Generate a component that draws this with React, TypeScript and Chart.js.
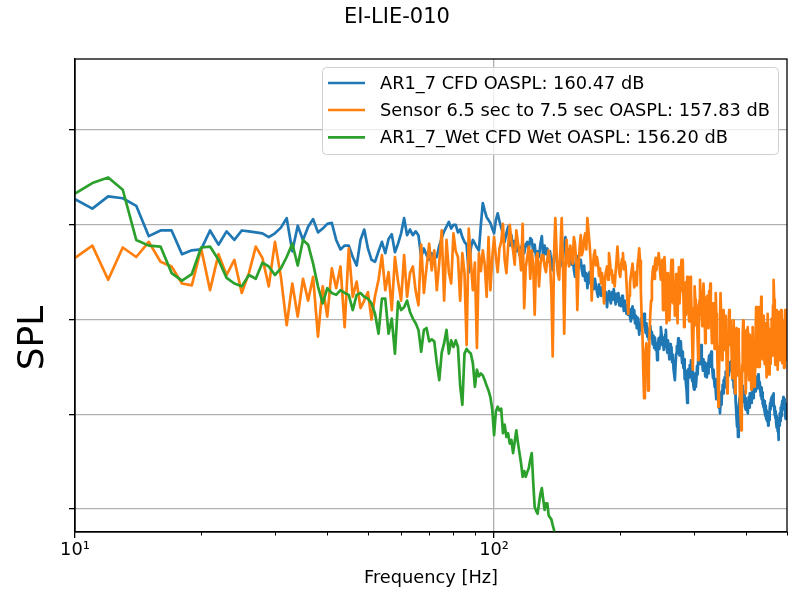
import React, { useEffect, useRef } from 'react';
import { Chart, registerables } from 'chart.js';

Chart.register(...registerables);

// ---------- data ----------
const titleText = 'EI-LIE-010';
const xAxisTitle = 'Frequency [Hz]';
const yAxisTitle = 'SPL';
const seriesLabels = [
  'AR1_7 CFD OASPL: 160.47 dB',
  'Sensor 6.5 sec to 7.5 sec OASPL: 157.83 dB',
  'AR1_7_Wet CFD Wet OASPL: 156.20 dB',
];
const seriesColors = ['#1f77b4', '#ff7f0e', '#2ca02c'];

// spectra sampled every 1 Hz starting at 10 Hz
const freqStart = 10;
const freqStep = 1;

const xMajorTicks = [10, 100];
const xMinorTicks = [20, 30, 40, 50, 60, 70, 80, 90, 200, 300, 400, 500];
const xTickLabels: Record<number, string> = { 10: '10¹', 100: '10²' };
const yTicks = [120, 130, 140, 150, 160];

const blueValues = [
  152.7, 151.7, 153.0, 152.8, 152.0, 148.8, 149.4, 149.4, 146.9, 147.3,
  147.4, 149.4, 147.9, 149.3, 148.4, 149.4, 149.3, 149.2, 149.1, 148.7,
  149.1, 149.7, 150.7, 147.2, 149.9, 148.4, 149.8, 150.6, 149.2, 149.6,
  150.1, 150.2, 148.4, 147.4, 147.8, 147.8, 146.6, 145.7, 148.4, 149.5,
  147.5, 146.3, 146.1, 147.2, 148.2, 147.0, 148.5, 149.0, 147.1, 148.0,
  149.1, 150.7, 148.9, 149.5, 148.9, 149.3, 148.9, 146.6, 147.5, 146.8,
  146.3, 147.0, 146.5, 146.6, 147.8, 148.6, 149.3, 149.8, 150.3, 149.6,
  150.0, 150.0, 149.2, 149.5, 148.7, 148.2, 147.9, 145.0, 147.5, 148.4,
  148.0, 147.6, 147.3, 150.0, 152.3, 151.5, 150.8, 150.5, 150.2, 149.6,
  149.1, 150.5, 151.2, 150.4, 149.7, 149.0, 148.2, 149.1, 149.8, 147.8,
  148.9, 147.6, 148.3, 147.2, 147.8, 146.8, 147.5, 148.1, 147.0, 147.9,
  148.2, 147.3, 148.6, 148.4, 147.2, 147.9, 146.5, 147.2, 146.6, 148.0,
  148.8,
  146.5, 147.8, 146.9, 147.5, 146.1, 147.2, 146.0, 145.2, 146.8, 147.3,
  146.4, 145.1, 146.0, 145.6, 147.1, 146.3, 147.9, 148.7, 147.0, 146.2,
  147.4, 146.6, 145.8, 146.9, 145.3, 144.5, 145.9, 146.7, 145.4, 146.0,
  146.3, 145.2, 144.6, 145.7, 144.1, 144.9, 143.3, 144.5, 145.0, 143.8,
  144.6, 144.0, 143.2, 144.3, 143.6, 142.9, 142.4, 143.7, 143.1, 142.5,
  143.4, 142.8, 143.5, 142.1, 142.9, 141.3, 142.6, 143.0, 142.2, 141.7,
  142.9, 142.1, 143.2, 142.4, 141.6, 142.7, 141.9, 142.8, 141.5, 142.2,
  141.4, 142.5, 141.8, 140.9, 142.0, 141.2, 140.6, 141.5, 140.5, 141.1,
  140.3, 139.8, 140.7, 141.4, 140.2, 141.0, 139.6, 140.4, 139.1, 140.2,
  139.3, 138.4, 139.7, 140.1, 138.9, 139.5, 140.3, 140.6, 139.2, 138.6,
  139.6, 138.2, 139.0, 137.8, 138.5, 139.3, 138.1, 138.7, 137.4, 138.3,
  137.0, 138.1, 136.8, 137.5, 135.7, 137.2, 138.0, 136.9, 138.2, 139.2,
  138.5, 137.3, 138.1, 136.8, 137.6, 138.4, 138.9, 137.2, 136.5, 137.8,
  136.9, 135.8, 137.4, 136.2, 137.1, 135.5, 136.3, 134.8, 134.2, 133.6,
  135.1, 136.4, 137.2, 136.6, 138.0, 137.1, 136.2, 137.4, 137.7, 136.3,
  135.4, 136.6, 134.9, 135.8, 133.7, 134.6, 133.2, 132.5, 131.2, 133.4,
  134.8, 133.9, 135.2, 134.4, 135.7, 134.1, 133.5, 134.6, 133.0, 132.6,
  133.8, 134.3, 132.9, 133.7, 135.1, 134.2, 135.9, 136.4, 135.3, 136.5,
  136.0, 137.3, 136.1, 135.2, 134.6, 135.8, 134.9, 135.5, 134.0, 135.1,
  134.7, 133.9, 135.4, 134.3, 135.6, 136.2, 135.0, 135.9, 136.4, 136.6,
  135.3, 134.5, 133.8, 134.7, 133.6, 132.9, 133.7, 132.4, 131.6, 132.8,
  131.9, 132.6, 131.3, 130.7, 131.5, 130.1, 131.2, 132.3, 131.0, 132.5,
  133.1, 132.2, 133.6, 132.8, 133.9, 133.3, 134.5, 133.7, 134.0, 133.2,
  134.4, 135.0, 134.1, 135.3, 134.6, 135.5, 134.8, 135.2, 135.7, 134.3,
  133.6, 134.5, 132.8, 133.9, 132.2, 133.1, 131.4, 130.6, 129.5, 128.7,
  129.9, 127.6, 129.6, 130.8, 131.7, 130.9, 132.2, 131.5, 132.7, 131.8,
  133.0, 132.9, 132.1, 131.3, 132.4, 131.6, 130.8, 131.7, 130.5, 131.2,
  130.4, 131.3, 130.1, 130.9, 131.8, 130.7, 131.5, 132.2, 131.4, 132.0,
  131.2, 132.3, 131.8, 132.6, 131.7, 132.9, 133.4, 132.5, 133.2, 132.4,
  133.5, 132.7, 133.8, 133.1, 134.0, 133.3, 134.2, 134.0, 133.2, 132.6,
  133.4, 132.5, 131.9, 132.8, 131.6, 132.3, 131.1, 131.9, 130.8, 131.5,
  130.6, 131.4, 130.2, 129.8, 130.9, 129.5, 130.4, 129.3, 130.1, 129.6,
  128.8, 129.0, 130.2, 129.4, 130.6, 131.2, 130.5, 131.6, 130.9, 131.8,
  131.1, 132.0, 131.5, 132.2, 131.3, 130.7, 129.9, 130.8, 129.6, 130.3,
  129.1, 129.8, 128.6, 129.4, 128.2, 128.9, 127.3, 128.5, 129.6, 128.8,
  130.1, 129.3, 130.7, 129.8, 131.0, 130.2, 131.4, 130.6, 131.2, 131.8,
  130.9, 131.6, 130.4, 131.3, 129.8, 130.7, 129.5, 130.4, 131.0, 131.2,
];

const orangeValues = [
  146.5, 147.8, 144.2, 147.6, 146.6, 148.2, 146.1, 145.6, 143.8, 143.6,
  147.5, 143.1, 146.9, 144.7, 146.3, 142.8, 144.9, 147.7, 146.5, 143.5,
  148.2, 144.5, 139.4, 143.8, 140.3, 144.3, 142.0, 144.5, 138.2, 143.5,
  140.3, 145.4, 143.3, 145.6, 139.2, 147.5, 142.4, 144.0, 141.2, 142.0,
  142.9, 140.0, 142.5, 144.2, 146.8, 143.1, 145.0, 141.0, 146.6, 144.0,
  142.0, 146.8, 142.4, 144.9, 145.6, 143.0, 141.5, 147.9, 142.8, 145.5,
  148.0, 145.2, 147.3, 143.1, 146.0, 149.4, 142.0, 148.4, 145.0, 143.8,
  149.1, 147.2, 146.6, 142.0, 147.0, 144.9, 137.3, 149.6, 146.2, 143.1,
  146.0, 137.0, 147.0, 145.1, 147.3, 145.8, 142.4, 148.7, 143.1, 146.5,
  148.7, 146.6, 145.0, 147.5, 148.2, 150.1, 146.3, 144.9, 147.6, 150.0,
  148.3, 147.3, 145.8, 149.4, 148.1, 147.0, 145.2, 150.1, 141.2, 145.5,
  146.6, 147.7, 144.3, 147.3, 145.6, 140.5, 146.5, 147.0, 143.5, 145.8,
  146.8,
  146.8, 145.6, 145.0, 146.4, 147.3, 145.9, 143.0, 136.1, 146.6, 150.7,
  147.2, 144.8, 144.2, 147.5, 150.7, 146.0, 138.5, 145.3, 148.4, 146.2,
  145.6, 147.8, 147.0, 145.9, 148.7, 148.0, 146.1, 141.0, 145.4, 147.6,
  148.9, 146.8, 147.3, 148.5, 149.1, 147.4, 150.7, 149.3, 148.0, 146.2,
  142.0, 145.3, 146.8, 147.3, 145.7, 146.6, 145.9, 144.6, 145.4, 143.8,
  144.9, 143.2, 141.7, 144.5, 145.1, 145.6, 144.2, 147.0, 146.1, 144.8,
  145.2, 143.9, 144.6, 143.5, 145.0, 146.3, 147.7, 146.0, 144.9, 144.5,
  145.8, 146.4, 147.0, 145.3, 146.1, 145.6, 143.9, 142.1, 140.6, 142.5,
  143.8, 144.6, 145.2, 145.9, 144.7, 143.4, 144.2, 145.0, 143.6, 145.8,
  146.5, 147.5, 146.2, 143.1, 140.2, 138.5, 134.6, 131.7, 133.9, 136.8,
  137.5, 135.2, 132.5, 134.8, 138.6, 140.7, 142.0, 143.9, 145.1, 145.6,
  144.3, 146.0, 146.5, 145.2, 146.5, 145.8, 147.0, 146.3, 145.0, 144.2,
  145.4, 146.3, 141.0, 143.7, 146.6, 144.9, 142.3, 139.6, 142.8, 144.9,
  143.1, 139.9, 141.8, 144.6, 146.3, 142.0, 146.3, 141.7, 143.5, 140.4,
  142.9, 144.8, 141.2, 139.6, 143.7, 145.5, 141.7, 143.0, 145.0, 146.3,
  144.7, 146.3, 142.6, 139.2, 141.8, 143.9, 140.5, 142.3, 144.5, 143.1,
  141.4, 139.8, 142.7, 144.5, 143.0, 140.9, 137.6, 134.7, 138.5, 141.2,
  143.5, 142.1, 139.4, 141.6, 140.1, 137.8, 135.7, 138.9, 142.0, 144.2,
  142.8, 140.5, 141.0, 139.3, 141.9, 143.8, 142.4, 140.7, 137.5, 139.6,
  141.7, 140.2, 142.5, 139.1, 141.3, 143.0, 140.8, 143.8, 141.9, 139.4,
  137.5, 139.8, 141.7, 140.3, 138.6, 136.9, 139.5, 142.8, 140.6, 138.3,
  136.1, 133.4, 130.8, 133.9, 137.2, 140.1, 142.8, 141.0, 138.7, 135.7,
  137.9, 140.5, 141.0, 139.2, 136.8, 138.5, 140.4, 137.6, 135.1, 132.2,
  134.8, 137.9, 139.9, 141.0, 139.5, 137.3, 139.9, 138.2, 136.0, 133.8,
  135.9, 138.7, 139.9, 137.6, 134.4, 132.2, 135.0, 137.8, 139.1, 136.5,
  134.1, 136.8, 139.0, 137.2, 134.5, 131.6, 130.2, 129.1, 128.3, 131.4,
  135.2, 138.4, 139.9, 137.0, 134.6, 136.9, 138.8, 136.2, 132.2, 134.9,
  137.1, 139.0, 139.2, 137.4, 135.3, 133.6, 136.0, 138.4, 137.1, 134.8,
  132.6, 134.9, 137.3, 139.2, 137.5, 135.0, 132.9, 134.7, 132.9, 136.2,
  138.9, 141.3, 139.7, 137.1, 135.0, 137.6, 140.0, 141.3, 139.2, 136.4,
  135.0, 137.8, 140.2, 142.4, 140.3, 137.5, 135.8, 138.1, 140.4, 139.0,
  136.2, 135.3, 137.7, 139.6, 138.2, 135.7, 133.9, 136.5, 138.9, 140.6,
  139.1, 136.6, 134.2, 136.8, 139.0, 137.4, 135.3, 137.9, 140.1, 138.0,
  136.2, 138.7, 141.5, 143.0, 144.2, 142.1, 139.5, 137.0, 135.2, 136.4,
  138.7, 141.0, 139.2, 136.9, 134.7, 136.1, 138.5, 140.8, 139.3, 137.5,
  135.7, 137.8, 140.2, 141.0, 139.4, 137.1, 135.4, 137.6, 139.8, 138.5,
  136.4, 134.9, 137.3, 139.6, 141.0, 138.7, 135.7, 137.9, 140.2, 139.2,
];

const greenValues = [
  153.3, 154.4, 155.0, 153.7, 148.4, 147.8, 147.7, 144.9, 144.1, 144.8,
  147.6, 147.7, 146.3, 144.4, 143.8, 143.5, 144.7, 144.3, 146.0, 145.6,
  144.7, 145.4, 146.6, 148.0, 145.7, 148.4, 147.9, 145.9, 143.5, 141.7,
  143.3, 142.8, 142.6, 143.1, 142.8, 142.6, 141.0, 142.6, 142.8, 142.4,
  142.2, 141.7, 140.6, 138.5, 142.2, 142.2, 138.5, 140.1, 136.4, 141.9,
  141.0, 141.3, 142.0, 140.8, 140.1, 139.6, 138.9, 136.6, 138.9, 139.1,
  137.7, 137.9, 137.7, 135.4, 133.6, 136.5, 137.5, 138.9, 136.4, 137.8,
  137.1, 137.8, 137.1, 133.0, 131.0, 136.4, 136.9, 136.6, 136.4, 135.4,
  132.9, 134.7, 134.0, 134.3, 134.1, 133.6, 133.0, 132.5, 131.8, 130.5,
  127.8, 130.3, 130.8, 130.4, 130.6, 128.0, 128.9, 127.6, 128.0, 126.9,
  127.3, 125.9, 127.1, 128.3, 127.0, 125.9, 124.8, 123.4, 124.0, 123.4,
  123.9, 124.3, 125.2, 125.9, 122.8, 120.2, 119.8, 119.5, 120.6, 121.6,
  122.2, 121.0, 119.9, 120.6, 120.6, 119.3, 119.1, 118.9, 118.3, 117.8, 116.5,
];

// ---------- helpers ----------
const toPoints = (vals: number[]) => vals.map((v, i) => ({ x: freqStart + i * freqStep, y: v }));

const FONT = "'DejaVu Sans', 'Liberation Sans', sans-serif";

const decorPlugin = {
  id: 'decor',
  afterDraw(chart: any) {
    const { ctx, chartArea } = chart;
    const xs = chart.scales.x;
    ctx.save();
    // frame
    ctx.strokeStyle = '#000';
    ctx.lineWidth = 1.3;
    ctx.strokeRect(chartArea.left, chartArea.top, chartArea.right - chartArea.left, chartArea.bottom - chartArea.top);
    // minor x ticks
    ctx.lineWidth = 1;
    for (const v of xMinorTicks) {
      const px = Math.round(xs.getPixelForValue(v)) + 0.5;
      ctx.beginPath();
      ctx.moveTo(px, chartArea.bottom);
      ctx.lineTo(px, chartArea.bottom + 3.5);
      ctx.stroke();
    }
    // title
    ctx.fillStyle = '#000';
    ctx.textAlign = 'center';
    ctx.textBaseline = 'middle';
    ctx.font = `21px ${FONT}`;
    ctx.fillText(titleText, 397, 18);
    // x label
    ctx.font = `17.8px ${FONT}`;
    ctx.fillText(xAxisTitle, (chartArea.left + chartArea.right) / 2, 578);
    // y label
    ctx.save();
    ctx.translate(34, 338);
    ctx.rotate(-Math.PI / 2);
    ctx.font = `36px ${FONT}`;
    ctx.fillText(yAxisTitle, 0, 0);
    ctx.restore();
    // legend
    const lx = 322.5, ly = 67.5, lw = 456, lh = 87, r = 4;
    ctx.beginPath();
    ctx.moveTo(lx + r, ly);
    ctx.lineTo(lx + lw - r, ly);
    ctx.quadraticCurveTo(lx + lw, ly, lx + lw, ly + r);
    ctx.lineTo(lx + lw, ly + lh - r);
    ctx.quadraticCurveTo(lx + lw, ly + lh, lx + lw - r, ly + lh);
    ctx.lineTo(lx + r, ly + lh);
    ctx.quadraticCurveTo(lx, ly + lh, lx, ly + lh - r);
    ctx.lineTo(lx, ly + r);
    ctx.quadraticCurveTo(lx, ly, lx + r, ly);
    ctx.closePath();
    ctx.fillStyle = 'rgba(255,255,255,0.8)';
    ctx.fill();
    ctx.strokeStyle = '#d0d0d0';
    ctx.lineWidth = 1;
    ctx.stroke();
    const rows = [83, 110, 137.3];
    ctx.textAlign = 'left';
    ctx.font = `17.8px ${FONT}`;
    seriesLabels.forEach((lab, i) => {
      ctx.strokeStyle = seriesColors[i];
      ctx.lineWidth = 2.7;
      ctx.beginPath();
      ctx.moveTo(328, rows[i]);
      ctx.lineTo(365, rows[i]);
      ctx.stroke();
      ctx.fillStyle = '#000';
      ctx.fillText(lab, 380, rows[i] + 1);
    });
    ctx.restore();
  },
};

export default function App() {
  const ref = useRef<HTMLCanvasElement | null>(null);
  useEffect(() => {
    if (!ref.current) return;
    const chart = new Chart(ref.current, {
      type: 'line',
      data: {
        datasets: [
          { label: seriesLabels[0], data: toPoints(blueValues), borderColor: seriesColors[0], order: 3 },
          { label: seriesLabels[1], data: toPoints(orangeValues), borderColor: seriesColors[1], order: 2 },
          { label: seriesLabels[2], data: toPoints(greenValues), borderColor: seriesColors[2], order: 1 },
        ].map((d) => ({ ...d, borderWidth: 2.7, pointRadius: 0, tension: 0, fill: false, borderJoinStyle: 'round' as const })),
      },
      options: {
        animation: false,
        responsive: false,
        maintainAspectRatio: false,
        devicePixelRatio: 1,
        events: [],
        layout: { padding: { top: 59, right: 7, left: 0, bottom: 0 } },
        plugins: { legend: { display: false }, title: { display: false }, tooltip: { enabled: false } },
        scales: {
          x: {
            type: 'logarithmic',
            min: 10,
            max: 500,
            afterBuildTicks: (s: any) => {
              s.ticks = xMajorTicks.map((v) => ({ value: v, major: true }));
            },
            afterFit: (s: any) => {
              s.height = 59;
            },
            ticks: {
              autoSkip: false,
              maxRotation: 0,
              padding: 2,
              color: '#000',
              font: { family: FONT, size: 17.8 },
              callback: (v: any) => xTickLabels[Number(v)] ?? '',
            },
            grid: {
              color: (c: any) => (c.tick && c.tick.value === 100 ? '#b0b0b0' : 'rgba(0,0,0,0)'),
              lineWidth: 1.3,
              tickColor: '#000',
              tickLength: 6,
            },
            border: { display: true, color: '#000', width: 1.3 },
          },
          y: {
            type: 'linear',
            min: 117.57,
            max: 167.5,
            afterBuildTicks: (s: any) => {
              s.ticks = yTicks.map((v) => ({ value: v }));
            },
            afterFit: (s: any) => {
              s.width = 75;
            },
            ticks: { display: false },
            grid: { color: '#b0b0b0', lineWidth: 1.3, tickColor: '#000', tickLength: 6 },
            border: { display: true, color: '#000', width: 1.3 },
          },
        },
      },
      plugins: [decorPlugin],
    } as any);
    return () => chart.destroy();
  }, []);
  return (
    <div style={{ position: 'fixed', left: 0, top: 0, width: 794, height: 591, background: '#fff' }}>
      <canvas ref={ref} width={794} height={591} style={{ display: 'block', width: 794, height: 591 }} />
    </div>
  );
}
